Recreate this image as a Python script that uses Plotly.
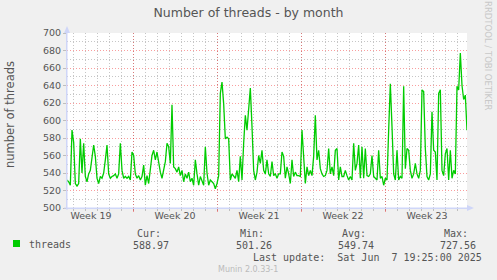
import plotly.graph_objects as go

# ---------------- data ----------------
sample_step_days = 5 / 36  # regular sampling interval (days)
threads = [
    532, 530, 526, 589, 575, 528, 525, 528, 579, 540,
    574, 536, 530, 539, 543, 555, 572, 559, 534, 528,
    536, 534, 540, 555, 572, 539, 534, 536, 537, 539,
    534, 539, 574, 543, 534, 536, 534, 536, 532, 564,
    560, 539, 534, 537, 532, 536, 549, 526, 537, 528,
    543, 560, 566, 555, 564, 551, 541, 534, 543, 553,
    574, 570, 551, 618, 547, 545, 541, 547, 537, 543,
    530, 539, 534, 541, 530, 534, 526, 555, 539, 526,
    536, 530, 526, 570, 540, 526, 532, 530, 528, 522,
    528, 537, 631, 644, 619, 579, 581, 579, 532, 539,
    537, 534, 543, 530, 559, 532, 574, 606, 589, 616,
    637, 593, 543, 532, 541, 560, 551, 566, 543, 539,
    555, 539, 536, 553, 537, 539, 534, 539, 539,
    564, 559, 534, 547, 539, 528, 555, 536, 541, 537,
    537, 536, 589, 551, 528, 547, 537, 543, 537, 559,
    606, 555, 566, 545, 539, 536, 537, 543, 568, 539,
    547, 537, 566, 568, 532, 547, 536, 536, 543, 537,
    532, 536, 532, 574, 543, 551, 572, 534, 570, 534,
    568, 537, 536, 539, 560, 536, 534, 532, 566, 534,
    536, 526, 534, 532, 589, 642, 593, 539, 532, 566,
    532, 536, 534, 639, 545, 568, 566, 543, 534, 539,
    551, 539, 534, 543, 635, 633, 568, 536, 532, 539,
    610, 566, 564, 532, 631, 635, 543, 537, 562, 568,
    532, 566, 534, 543, 539, 639, 635, 677, 640, 624,
    629, 589,
]
times = [i * sample_step_days for i in range(len(threads))]

week_bounds = [5.5, 12.5, 19.5, 26.5]
week_centers = [2, 9, 16, 23, 30]
week_labels = ["Week 19", "Week 20", "Week 21", "Week 22", "Week 23"]
x_span = [0, 100 / 3]
y_span = [500, 700]

stat_names = ["Cur:", "Min:", "Avg:", "Max:"]
stat_values = ["588.97", "501.26", "549.74", "727.56"]
series_name = "threads"
last_update = "Last update:  Sat Jun  7 19:25:00 2025"

# ---------------- layout helpers ----------------
W, H = 497, 280
L, R, T, B = 67, 467, 33, 208


def px(p):
    return (p - L) / (R - L)


def py(p):
    return (B - p) / (B - T)


FONT = "DejaVu Sans"
MONO = "DejaVu Sans Mono"
FC = "#555555"
RED_GRID = "rgba(240,0,0,0.38)"
GRAY_GRID = "rgba(128,128,128,0.45)"
AXIS_C = "#CFD6F8"

fig = go.Figure()
fig.add_trace(go.Scatter(x=times, y=threads, mode="lines",
                         line=dict(color="#00CC00", width=1.3),
                         name=series_name, showlegend=False,
                         hoverinfo="skip"))
# overlay invisible trace for label axis
fig.add_trace(go.Scatter(x=x_span, y=y_span, mode="lines",
                         line=dict(width=0), xaxis="x2",
                         showlegend=False, hoverinfo="skip"))

fig.update_layout(
    width=W, height=H,
    margin=dict(l=L, r=W - R, t=T, b=H - B),
    paper_bgcolor="#F0F0F0", plot_bgcolor="#FFFFFF",
    title=dict(text="Number of threads - by month", x=0.5, xref="container",
               y=1 - 13 / H, yref="container", xanchor="center", yanchor="middle",
               font=dict(family=FONT, size=12.5, color=FC)),
    xaxis=dict(range=x_span, tickvals=week_bounds, ticktext=[""] * 4,
               showgrid=True, gridcolor=RED_GRID, griddash="1px,2px", gridwidth=1,
               ticks="outside", ticklen=3, tickcolor=RED_GRID,
               minor=dict(tick0=0.5, dtick=1, showgrid=True, gridcolor=GRAY_GRID,
                          griddash="1px,2px", ticks="outside", ticklen=2,
                          tickcolor=GRAY_GRID),
               zeroline=False, showline=True, linecolor=AXIS_C, linewidth=1,
               fixedrange=True),
    xaxis2=dict(range=x_span, overlaying="x", side="bottom", tickvals=week_centers,
                ticktext=week_labels, showgrid=False, zeroline=False, ticks="",
                tickfont=dict(family=FONT, size=9.5, color=FC), ticklabelstandoff=0),
    yaxis=dict(range=y_span, tick0=500, dtick=20, showgrid=True, gridcolor=RED_GRID,
               griddash="1px,2px", ticks="outside", ticklen=3, tickcolor=GRAY_GRID,
               minor=dict(dtick=10, showgrid=True, gridcolor=GRAY_GRID,
                          griddash="1px,2px"),
               tickfont=dict(family=FONT, size=9.5, color=FC),
               zeroline=False, showline=True, linecolor=AXIS_C, linewidth=1,
               fixedrange=True),
    font=dict(family=FONT, color=FC),
)

# axis arrows
fig.add_shape(type="path", xref="paper", yref="paper", line=dict(width=0),
              fillcolor=AXIS_C,
              path=f"M {px(64)} {py(33)} L {px(67)} {py(26)} L {px(70)} {py(33)} Z")
fig.add_shape(type="path", xref="paper", yref="paper", line=dict(width=0),
              fillcolor=AXIS_C,
              path=f"M {px(467)} {py(205)} L {px(474)} {py(208)} L {px(467)} {py(211)} Z")
fig.add_shape(type="line", xref="paper", yref="paper", line=dict(color=AXIS_C, width=1),
              x0=px(67), x1=px(67), y0=py(210), y1=py(30))
fig.add_shape(type="line", xref="paper", yref="paper", line=dict(color=AXIS_C, width=1),
              x0=px(64), x1=px(470), y0=py(208), y1=py(208))

ann = []
# y axis title
ann.append(dict(text="number of threads", x=px(10), y=py(115), textangle=-90,
                font=dict(family=FONT, size=11.5, color=FC)))
# rrdtool credit
ann.append(dict(text="RRDTOOL / TOBI OETIKER", x=px(488), y=py(56), textangle=90,
                font=dict(family=FONT, size=8.5, color="#C8C8C8")))
# legend
fig.add_shape(type="rect", xref="paper", yref="paper", line=dict(width=0),
              fillcolor="#00CC00", x0=px(13), x1=px(20), y0=py(247), y1=py(240))
ann.append(dict(text=series_name, x=px(27), y=py(244), xanchor="left",
                font=dict(family=MONO, size=10, color=FC)))
name_right = [162, 265, 367, 469]
val_right = [170, 273, 375, 477]
for n, v, nx, vx in zip(stat_names, stat_values, name_right, val_right):
    ann.append(dict(text=n, x=px(nx + 1), y=py(233), xanchor="right",
                    font=dict(family=MONO, size=10, color=FC)))
    ann.append(dict(text=v, x=px(vx + 1), y=py(245), xanchor="right",
                    font=dict(family=MONO, size=10, color=FC)))
ann.append(dict(text=last_update, x=px(484), y=py(257), xanchor="right",
                font=dict(family=MONO, size=10, color=FC)))
ann.append(dict(text="Munin 2.0.33-1", x=px(248), y=py(269), xanchor="center",
                font=dict(family=FONT, size=8, color="#BBBBBB")))

for a in ann:
    a.update(xref="paper", yref="paper", showarrow=False, yanchor="middle")
    a.setdefault("xanchor", "center")
fig.update_layout(annotations=ann)

fig.write_html("out.html")
